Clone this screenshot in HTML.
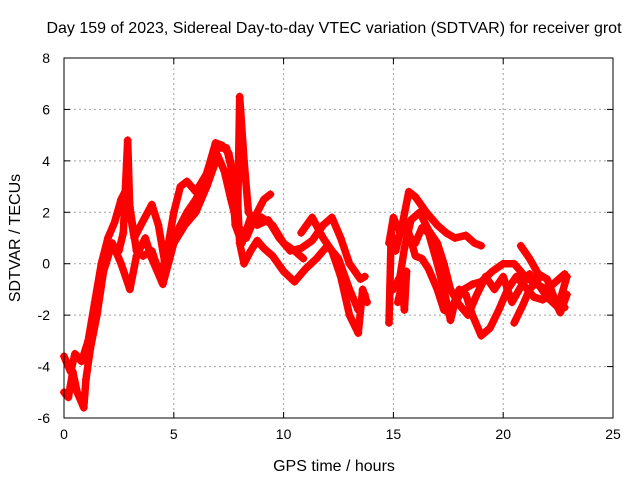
<!DOCTYPE html>
<html><head><meta charset="utf-8"><style>
html,body{margin:0;padding:0;background:#fff}
svg{display:block;font-family:"Liberation Sans",sans-serif}
</style></head><body>
<svg id="chart" width="640" height="480" viewBox="0 0 640 480">
<text x="334" y="33" font-size="16" text-anchor="middle">Day 159 of 2023, Sidereal Day-to-day VTEC variation (SDTVAR) for receiver grot</text>
<g id="grid"></g>
<g id="ticks"></g>
<g id="series"></g>
<rect x="64" y="58" width="549" height="360" fill="none" stroke="#000" stroke-width="1"/>
<text x="334" y="471" font-size="16" text-anchor="middle">GPS time / hours</text>
<text transform="translate(20,238) rotate(-90)" font-size="16" text-anchor="middle">SDTVAR / TECUs</text>
</svg>
<script>
const xTicks=[0,5,10,15,20,25];
const yTicks=[-6,-4,-2,0,2,4,6,8];
const track1=[[0,-3.6],[0.3,-4.2],[0.5,-3.5],[0.8,-3.8],[1.1,-3.0],[1.4,-1.5],[1.7,0],[2.0,1.0],[2.3,1.6],[2.6,2.5],[2.9,3.0],[3.0,2.2],[3.3,0.5],[3.6,0.3],[4.0,0.5],[4.4,-0.5],[4.7,0.5],[5.0,1.0],[5.3,1.5],[5.6,2.0],[6.0,2.5],[6.3,3.0],[6.6,3.8],[6.9,4.7],[7.2,4.6],[7.5,4.3],[7.7,3.5],[7.9,2.5],[8.0,0.8],[8.2,0.0],[8.5,0.5],[8.8,0.9],[9.1,0.6],[9.5,0.3],[10.0,-0.3],[10.5,-0.7],[11.0,-0.2],[11.5,0.2],[12.0,0.7],[12.5,0.2],[13.0,-1.0],[13.4,-1.8],[13.7,-1.2]];
const track2=[[0,-5.0],[0.2,-5.2],[0.4,-4.2],[0.6,-5.0],[0.9,-5.6],[1.0,-4.5],[1.2,-3.3],[1.5,-2],[1.8,-0.3],[2.2,0.8],[2.6,0.0],[3.0,-1.0],[3.3,0.3],[3.7,1.0],[4.0,0.2],[4.5,-0.8],[5.0,0.8],[5.5,1.5],[6.0,2.0],[6.5,3.0],[7.0,4.2],[7.3,3.6],[7.6,2.5],[7.9,1.5],[8.3,1.0],[8.8,2.0],[9.1,2.5],[9.4,2.7]];
const track3=[[2.5,0.5],[2.7,1.2],[2.9,4.8],[3.0,2.0],[3.2,1.0],[3.5,1.5],[4.0,2.3],[4.3,1.5],[4.6,0],[5.0,2.0],[5.3,3.0],[5.6,3.2],[6.0,2.8],[6.5,3.5],[7.0,4.5],[7.4,4.5],[7.6,3.8],[7.8,1.5],[8.1,0.8],[8.5,1.8],[9.0,1.8],[9.5,1.5],[10.0,0.8],[10.5,0.5],[10.9,0.2]];
const track4=[[7.9,1.5],[8.0,6.5],[8.2,4.0],[8.4,2.0],[8.8,1.5],[9.3,1.7],[9.8,1.0],[10.3,0.5],[10.8,0.6],[11.3,0.9],[11.8,1.5],[12.2,1.8],[12.6,1.0],[13.0,0.0],[13.5,-0.6],[13.7,-0.5]];
const track5=[[10.8,1.2],[11.3,1.8],[11.8,1.0],[12.2,0.5],[12.6,-0.5],[13.0,-2.0],[13.4,-2.7],[13.6,-1.0],[13.8,-1.5]];
const track6=[[14.8,-2.3],[14.9,1.2],[15.1,0.5],[15.4,1.5],[15.7,2.8],[16.0,2.6],[16.5,2.0],[17.0,1.5],[17.4,1.2],[17.8,1.0],[18.3,1.1],[18.7,0.8],[19.0,0.7]];
const track7=[[14.8,0.8],[15.0,1.8],[15.3,1.2],[15.6,1.2],[16.0,0.8],[16.3,1.4],[16.6,1.2],[17.0,0.0],[17.3,-1.0],[17.6,-2.2],[17.8,-1.5],[18.2,-1.0],[18.6,-0.8],[19.0,-0.7],[19.5,-0.3],[20.0,0.0],[20.5,0.0],[21.0,-0.5],[21.5,-0.8],[22.0,-1.0],[22.4,-0.7],[22.8,-0.4]];
const track8=[[15.0,-1.0],[15.3,-0.5],[15.5,0.6],[15.8,1.7],[16.2,2.0],[16.6,1.3],[17.0,0.8],[17.3,0.0],[17.6,-1.0],[18.0,-1.6],[18.4,-2.0],[18.8,-1.2],[19.2,-0.5],[19.6,-1.0],[20.0,-0.5],[20.4,-1.5],[20.8,-0.9],[21.2,-0.4],[21.6,-0.8],[22.0,-1.3],[22.5,-1.7],[22.9,-0.5]];
const track9=[[15.6,1.5],[16.0,0.3],[16.3,0.2],[16.6,-0.2],[17.0,-1.0],[17.3,-1.8],[17.6,-1.9],[18.0,-1.0],[18.3,-1.2],[18.6,-2.0],[19.0,-2.8],[19.4,-2.5],[19.8,-1.8],[20.2,-1.0],[20.6,-0.5],[21.0,-0.9],[21.4,-1.3],[21.8,-1.4],[22.2,-1.2],[22.6,-1.9],[22.9,-1.2]];
const track10=[[20.5,-2.3],[20.9,-1.6],[21.2,-1.0],[21.6,-0.6]];
const track11=[[20.8,0.7],[21.2,0.2],[21.6,-0.4],[22.0,-0.6],[22.4,-1.5],[22.8,-1.7]];
const track12=[[15.2,-1.5],[15.4,-0.8],[15.5,-1.8],[15.6,-0.3]];
const tracks=[track1,track2,track3,track4,track5,track6,track7,track8,track9,track10,track11,track12];

const NS="http://www.w3.org/2000/svg";
const X0=64,X1=613,Y0=418,Y1=58;
function xs(v){return X0+(v-0)/(25-0)*(X1-X0);}
function ys(v){return Y0-(v-(-6))/(8-(-6))*(Y0-Y1);}
function mk(tag,attrs,parent){const e=document.createElementNS(NS,tag);for(const k in attrs)e.setAttribute(k,attrs[k]);parent.appendChild(e);return e;}
const grid=document.getElementById('grid'),ticks=document.getElementById('ticks'),ser=document.getElementById('series');
xTicks.forEach(t=>{const x=xs(t);
 if(t>0&&t<25){const g=mk('line',{x1:x,x2:x,y1:Y1,y2:Y0,stroke:'#a0a0a0','stroke-dasharray':'2,3','stroke-width':1},grid);
 
 }
 mk('line',{x1:x,x2:x,y1:Y0,y2:Y0-6,stroke:'#000'},ticks);
 mk('line',{x1:x,x2:x,y1:Y1,y2:Y1+6,stroke:'#000'},ticks);
 const l=mk('text',{x:x,y:Y0+21,'font-size':14,'text-anchor':'middle'},ticks);l.textContent=t;
 
 });
yTicks.forEach(t=>{const y=ys(t);
 if(t>-6&&t<8){const g=mk('line',{x1:X0,x2:X1,y1:y,y2:y,stroke:'#a0a0a0','stroke-dasharray':'2,3','stroke-width':1},grid);
 
 }
 mk('line',{x1:X0,x2:X0+6,y1:y,y2:y,stroke:'#000'},ticks);
 mk('line',{x1:X1,x2:X1-6,y1:y,y2:y,stroke:'#000'},ticks);
 const l=mk('text',{x:X0-14,y:y+5,'font-size':14,'text-anchor':'end'},ticks);l.textContent=t;
 
 });
tracks.forEach((tr,i)=>{
 const pl=mk('polyline',{points:tr.map(p=>xs(p[0])+','+ys(p[1])).join(' '),fill:'none',stroke:'#ff0000','stroke-width':7.5,'stroke-linejoin':'round','stroke-linecap':'round'},ser);
 
 
 tr.forEach(p=>{const x=xs(p[0]),y=ys(p[1]);
  const m=mk('path',{d:`M${x-4},${y}H${x+4}M${x},${y-4}V${y+4}`,stroke:'#ff0000','stroke-width':1.2},ser);
  
  });
});
</script>
</body></html>
